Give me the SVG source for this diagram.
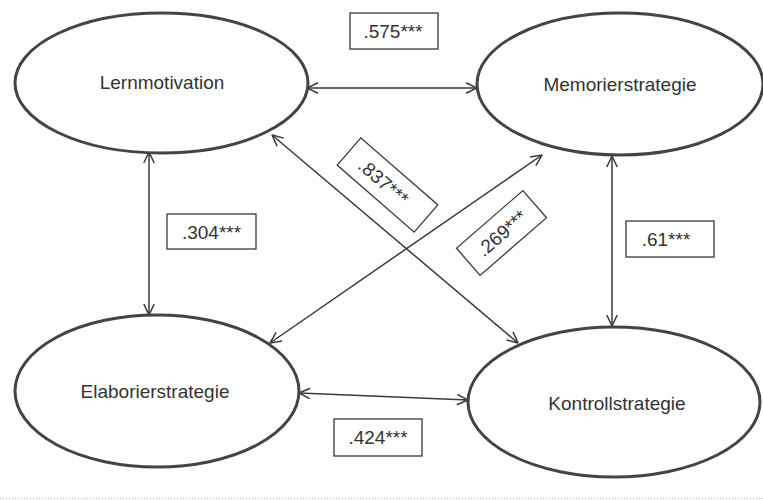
<svg xmlns="http://www.w3.org/2000/svg" width="763" height="500" viewBox="0 0 763 500">
<defs>
<marker id="ah" viewBox="0 0 12 12" refX="11.5" refY="6" markerWidth="12" markerHeight="12" markerUnits="userSpaceOnUse" orient="auto-start-reverse">
<path d="M0.5,0.8 L11.5,6 L0.5,11.2" fill="none" stroke="#3a3a3a" stroke-width="1.5"/>
</marker>
</defs>
<style>
.node ellipse{fill:#fff;stroke:#444;stroke-width:3}
.lbl{font-family:"Liberation Sans",Arial,sans-serif;font-size:19px;fill:#333;text-anchor:middle}
.conn line{stroke:#3a3a3a;stroke-width:1.5;marker-start:url(#ah);marker-end:url(#ah)}
.box{fill:#fff;stroke:#3a3a3a;stroke-width:1.3}
</style>
<rect width="763" height="500" fill="#fff"/>
<line x1="0" y1="498.5" x2="763" y2="498.5" stroke="#bbb" stroke-width="1" stroke-dasharray="1,2"/>
<g id="connectors" class="conn">
<line x1="307" y1="88" x2="477" y2="88"/>
<line x1="149" y1="152" x2="149" y2="315"/>
<line x1="612" y1="156" x2="612" y2="326"/>
<line x1="299" y1="393" x2="468" y2="400"/>
<line x1="272" y1="135" x2="518" y2="343"/>
<line x1="270" y1="343" x2="542" y2="155"/>
</g>
<g id="n-lernmotivation" class="node">
<ellipse cx="161.5" cy="83" rx="146.5" ry="70"/>
<text class="lbl" x="162" y="89">Lernmotivation</text>
</g>
<g id="n-memorierstrategie" class="node">
<ellipse cx="620" cy="84" rx="143" ry="71"/>
<text class="lbl" x="620" y="91">Memorierstrategie</text>
</g>
<g id="n-elaborierstrategie" class="node">
<ellipse cx="157" cy="391" rx="142" ry="76"/>
<text class="lbl" x="155" y="398">Elaborierstrategie</text>
</g>
<g id="n-kontrollstrategie" class="node">
<ellipse cx="614" cy="402" rx="146" ry="75"/>
<text class="lbl" x="617" y="410">Kontrollstrategie</text>
</g>
<g id="labels">
<g id="l-575"><rect class="box" x="350" y="13" width="88" height="36"/><text class="lbl" x="393" y="38">.575***</text></g>
<g id="l-304"><rect class="box" x="167" y="214" width="89" height="35"/><text class="lbl" x="211.5" y="239">.304***</text></g>
<g id="l-61"><rect class="box" x="626" y="221" width="88" height="36"/><text class="lbl" x="666" y="246">.61***</text></g>
<g id="l-424"><rect class="box" x="334" y="419" width="88" height="37"/><text class="lbl" x="378" y="444">.424***</text></g>
<g id="l-837" transform="translate(387.5,185) rotate(41)"><rect class="box" x="-51" y="-18" width="102" height="36"/><text class="lbl" x="-5" y="7">.837***</text></g>
<g id="l-269" transform="translate(501.5,233) rotate(-41)"><rect class="box" x="-44" y="-18" width="88" height="36"/><text class="lbl" x="0" y="7">.269***</text></g>
</g>
</svg>
